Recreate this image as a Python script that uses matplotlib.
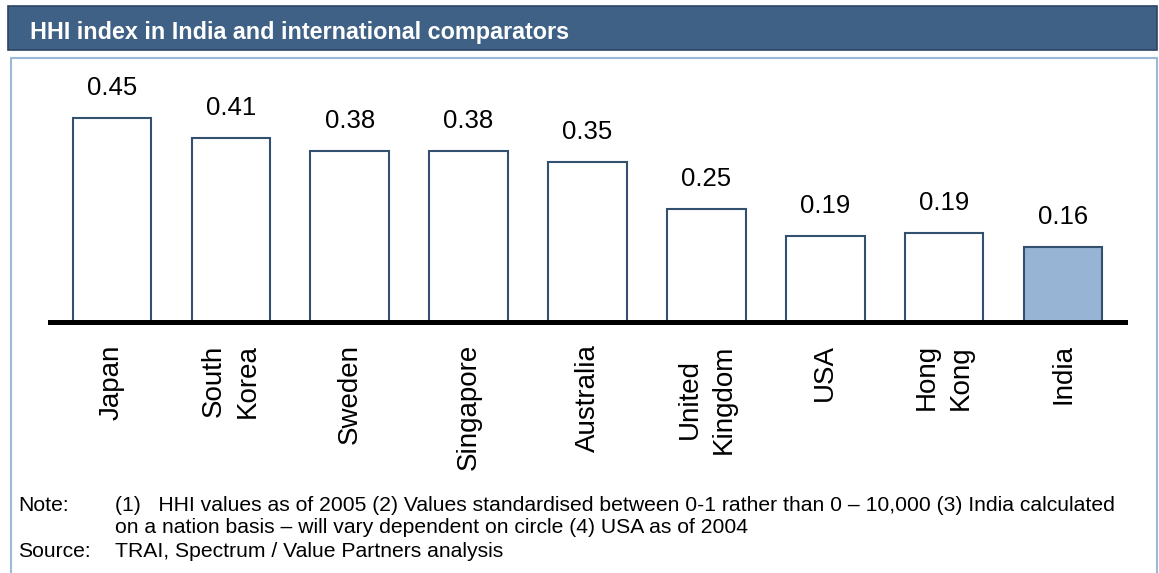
import matplotlib.pyplot as plt
from matplotlib.patches import Rectangle

plt.rcParams['font.family'] = ['Liberation Sans', 'DejaVu Sans']

countries = ['Japan', 'South\nKorea', 'Sweden', 'Singapore', 'Australia',
             'United\nKingdom', 'USA', 'Hong\nKong', 'India']
hhi = [0.45, 0.406, 0.377, 0.377, 0.353, 0.249, 0.19, 0.196, 0.166]
hhi_labels = ['0.45', '0.41', '0.38', '0.38', '0.35', '0.25', '0.19', '0.19', '0.16']
bar_colors = ['white'] * 8 + ['#98B4D4']

W, H = 1159, 573
fig = plt.figure(figsize=(W / 100, H / 100), dpi=100)

# header bar and frame box
fig.patches.append(Rectangle((8 / W, 1 - 50 / H), 1149 / W, 44 / H, transform=fig.transFigure,
                             facecolor='#3F6186', edgecolor='#2B4463', linewidth=1.2, zorder=-2))
fig.patches.append(Rectangle((11 / W, -0.05), 1146 / W, 1 - 58 / H + 0.05, transform=fig.transFigure,
                             facecolor='none', edgecolor='#9DB9DA', linewidth=1.5, zorder=-2))
fig.text(30 / W, 1 - 32 / H, 'HHI index in India and international comparators',
         color='white', fontsize=16.8, fontweight='bold', va='center', ha='left')

# axes: baseline at y=322 px, from x=50 to 1125
ax = fig.add_axes([50 / W, 1 - 322 / H, 1075 / W, 262 / H])
x = list(range(len(countries)))
bars = ax.bar(x, hhi, width=0.66, color=bar_colors, edgecolor='#34506F', linewidth=1.5, zorder=2)
for rect, lab in zip(bars, hhi_labels):
    ax.annotate(lab, (rect.get_x() + rect.get_width() / 2, rect.get_height()),
                xytext=(0, 16.5), textcoords='offset points',
                ha='center', va='baseline', fontsize=18.5)

ax.set_xlim(-0.52, 8.52)
ax.set_ylim(0, 262 / 453)
ax.set_xticks(x)
ax.set_xticklabels(countries, rotation=90, fontsize=20, ha='center', va='top',
                   multialignment='center', linespacing=1.4)
ax.tick_params(axis='x', length=0, pad=16)
ax.set_yticks([])
for s in ['top', 'left', 'right']:
    ax.spines[s].set_visible(False)
ax.spines['bottom'].set_linewidth(3.6)
ax.spines['bottom'].set_color('black')
ax.spines['bottom'].set_zorder(3)
ax.patch.set_alpha(0)

# footnotes
fs = 15.2
fig.text(18 / W, 1 - 511 / H, 'Note:', fontsize=fs, va='baseline')
fig.text(115 / W, 1 - 511 / H,
         '(1)   HHI values as of 2005 (2) Values standardised between 0-1 rather than 0 \u2013 10,000 (3) India calculated',
         fontsize=fs, va='baseline')
fig.text(115 / W, 1 - 533 / H,
         'on a nation basis \u2013 will vary dependent on circle (4) USA as of 2004',
         fontsize=fs, va='baseline')
fig.text(18 / W, 1 - 557 / H, 'Source:', fontsize=fs, va='baseline')
fig.text(115 / W, 1 - 557 / H, 'TRAI, Spectrum / Value Partners analysis', fontsize=fs, va='baseline')

fig.savefig('out.png', dpi=100)
